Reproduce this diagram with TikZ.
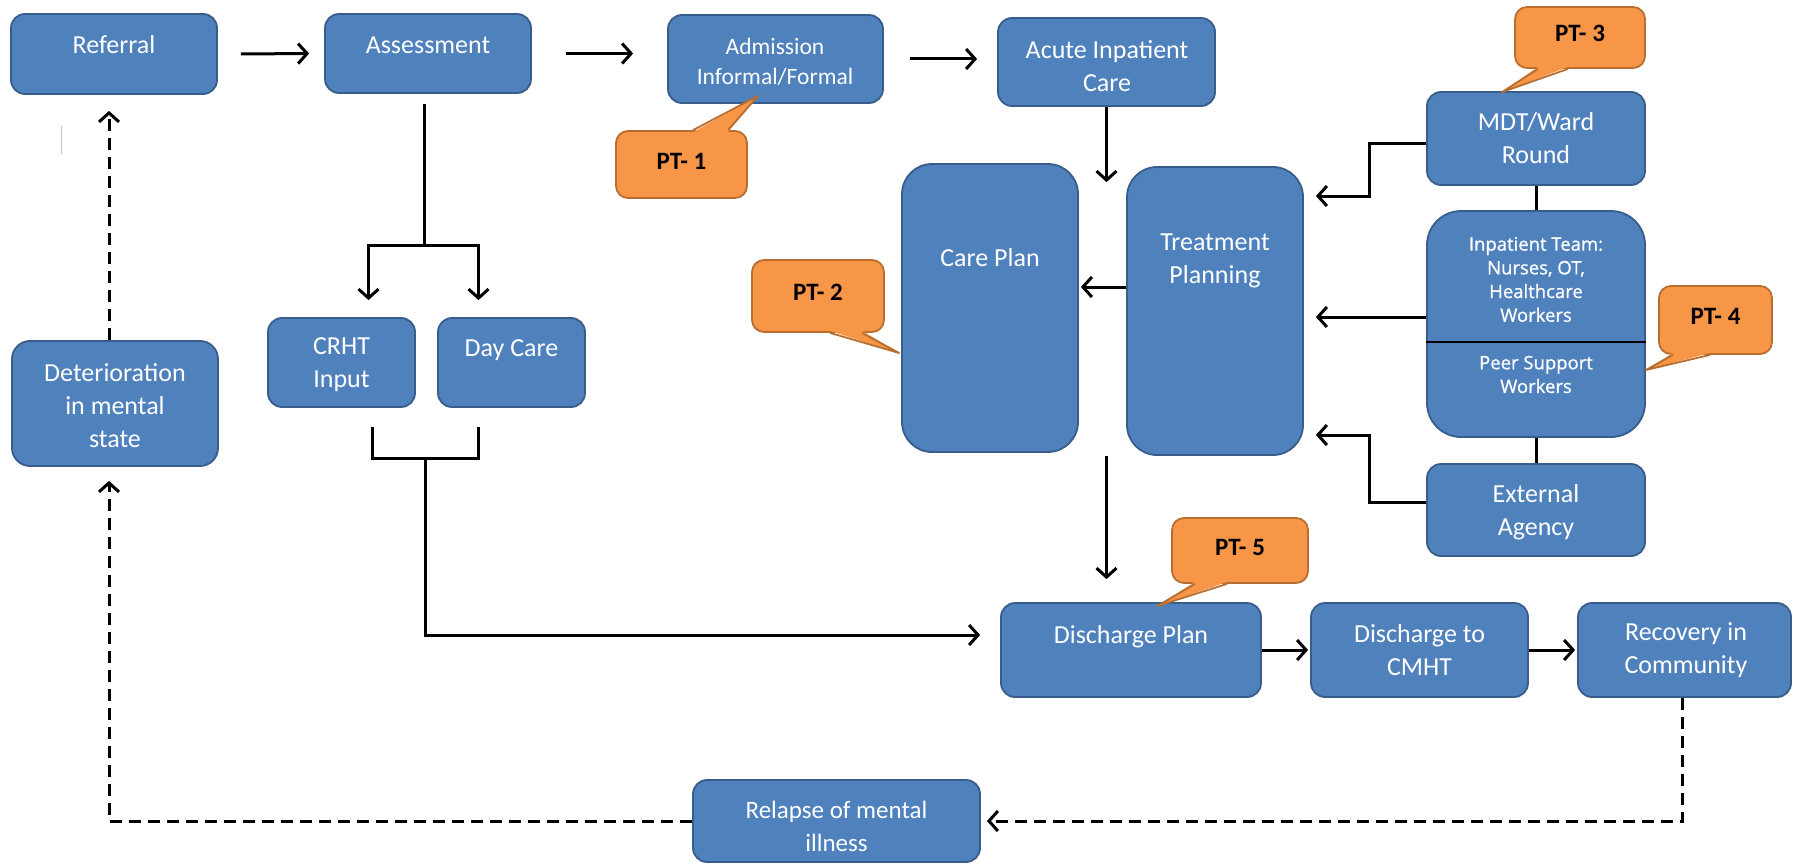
\documentclass[tikz,border=0pt]{standalone}
\usepackage{fontspec}
\setmainfont{Carlito}
\newfontfamily\teamfont{Open Sans}[FakeBold=0.8]
\usepackage{tikz}
\usetikzlibrary{arrows.meta,calc}
\definecolor{boxblue}{HTML}{4F81BD}
\definecolor{boxedge}{HTML}{385D8A}
\definecolor{ptorange}{HTML}{F79646}
\definecolor{ptedge}{HTML}{B86E30}

\begin{document}
\begin{tikzpicture}[x=1pt, y=-1pt,
  box/.style={draw=boxedge, fill=boxblue, line width=1.8pt, rounded corners=14pt, inner sep=0pt},
  txt/.style={text=white, align=center, inner sep=0pt, font=\fontsize{26}{33}\selectfont},
  teamtxt/.style={txt, font=\teamfont\fontsize{18.5}{23.7}\selectfont},
  ptbox/.style={draw=ptedge, fill=ptorange, line width=1.8pt, rounded corners=12pt, inner sep=0pt,
    text height=17pt, text depth=8pt, font=\bfseries\fontsize{25}{30}\selectfont},
  ptline/.style={draw=ptedge, line width=1.8pt, line join=round},
  link/.style={line width=3pt},
  arr/.style={link, -{Straight Barb[length=9pt,width=20pt]}},
  darr/.style={arr, dash pattern=on 12pt off 7pt}]
\fill[white] (0,0) rectangle (1793,864);
\useasboundingbox (0,0) rectangle (1793,864);
% top row
\node[box, minimum width=206pt, minimum height=80pt] (referral) at (114,54) {};
\node[box, minimum width=206pt, minimum height=79pt] (assess) at (428,53.5) {};
\node[box, minimum width=215pt, minimum height=88pt] (admission) at (775.5,59) {};
\node[box, minimum width=217pt, minimum height=88pt] (acute) at (1106.5,62) {};
% right column
\node[box, minimum width=218pt, minimum height=93pt] (mdt) at (1536,138.5) {};
\node[box, minimum width=218pt, minimum height=226pt, rounded corners=34pt] (team) at (1536,324) {};
\node[box, minimum width=218pt, minimum height=92pt] (external) at (1536,510) {};
\draw[line width=1.5pt] ([yshift=-18pt]team.west) -- ([yshift=-18pt]team.east);
% care plan / treatment planning
\node[box, minimum width=176pt, minimum height=288pt, rounded corners=30pt] (careplan) at (990,308) {};
\node[box, minimum width=176pt, minimum height=288pt, rounded corners=30pt] (treatment) at (1215,311) {};
% left side
\node[box, minimum width=147pt, minimum height=89pt] (crht) at (341.5,362.5) {};
\node[box, minimum width=147pt, minimum height=89pt] (daycare) at (511.5,362.5) {};
\node[box, minimum width=206pt, minimum height=125pt, rounded corners=18pt] (deterioration) at (115,403.5) {};
% bottom row
\node[box, minimum width=260pt, minimum height=94pt] (dischplan) at (1131,650) {};
\node[box, minimum width=217pt, minimum height=94pt] (cmht) at (1419.5,650) {};
\node[box, minimum width=213pt, minimum height=94pt] (recovery) at (1684.5,650) {};
\node[box, minimum width=287pt, minimum height=82pt] (relapse) at (836.5,821) {};

% box texts
\node[txt] (referral-t) at (114,45) {Referral};
\node[txt] (assess-t) at (428,45) {Assessment};
\node[txt, font=\fontsize{23.5}{30}\selectfont] (admission-t) at (775,62) {Admission\\Informal/Formal};
\node[txt] (acute-t) at (1107,66) {Acute Inpatient\\Care};
\node[txt] (mdt-t) at (1536,138.5) {MDT/Ward\\Round};
\node[teamtxt] (team-t) at (1536,279.5) {Inpatient Team:\\Nurses, OT,\\Healthcare\\Workers};
\node[teamtxt] (peer-t) at (1536,374.5) {Peer Support\\Workers};
\node[txt] (external-t) at (1536,512) {External\\Agency};
\node[txt] (careplan-t) at (990,258) {Care Plan};
\node[txt] (treatment-t) at (1215,260.5) {Treatment\\Planning};
\node[txt] (crht-t) at (341.5,364.5) {CRHT\\Input};
\node[txt] (daycare-t) at (511.5,350) {Day Care};
\node[txt] (deterioration-t) at (115,406) {Deterioration\\in mental\\state};
\node[txt] (dischplan-t) at (1131,637) {Discharge Plan};
\node[txt] (cmht-t) at (1419.5,650.5) {Discharge to\\CMHT};
\node[txt] (recovery-t) at (1686,650.5) {Recovery in\\Community};
\node[txt, font=\fontsize{25}{33}\selectfont] (relapse-t) at (836.5,826.5) {Relapse of mental\\illness};

% flow along the top
\draw[arr] ([xshift=23pt]referral.east) -- ([xshift=-15pt]assess.west);
\draw[arr] ([xshift=34pt]assess.east) -- ($(admission.west |- assess.east)+(-34,0)$);
\draw[arr] ([xshift=26pt]admission.east) -- ($(acute.west |- admission.east)+(-20,0)$);
% into and out of the plans
\draw[arr] (acute.south) -- ($(acute.south |- careplan.north)+(0,19)$);
\draw[arr] ([yshift=24pt]treatment.west) -- ([xshift=2pt,yshift=21pt]careplan.east);
\draw[arr] (treatment.south -| acute.south) -- ($(dischplan.north -| acute.south)+(0,-23)$);
% inputs to treatment planning
\coordinate (tpin) at ([xshift=12pt]treatment.east);
\draw[arr] ([yshift=-5pt]mdt.west) -- ++(-57,0) |- ($(tpin)+(0,-115)$);
\draw[arr] ($(team.west)+(0,-7)$) -- ($(tpin |- team.west)+(0,-7)$);
\draw[arr] ([yshift=8pt]external.west) -- ++(-57,0) |- ($(tpin)+(0,124)$);
\draw[link] (mdt.south) -- (team.north);
\draw[link] (team.south) -- (external.north);
% assessment split
\coordinate (fork) at ($(assess.south)+(-4,152)$);
\draw[link] ($(assess.south)+(-4,10)$) -- (fork);
\draw[arr] (fork) -| ($(crht.north)+(27,-17)$);
\draw[arr] (fork) -| ($(daycare.north)+(-33,-17)$);
% merge into discharge plan
\coordinate (merge) at ($(crht.south)!0.5!(daycare.south)+(-1,51)$);
\draw[link] ($(crht.south)+(31,19)$) |- (merge) -| ($(daycare.south)+(-33,19)$);
\draw[arr] (merge) |- ($(dischplan.west)+(-20,-15)$);
% bottom row
\draw[arr] (dischplan.east) -- ([xshift=-2pt]cmht.west);
\draw[arr] (cmht.east) -- ([xshift=-2pt]recovery.west);
% relapse loop
\draw[darr] ($(recovery.south)+(-2,0)$) |- ([xshift=6pt]relapse.east);
\draw[darr] (relapse.west) -| ($(deterioration.south)+(-6,14)$);
\draw[darr] ($(deterioration.north)+(-6,0)$) -- ($(referral.south)+(-5,16)$);
\draw[gray!50, line width=1pt] (61,126) -- (61,154);

% PT callouts
\node[ptbox, minimum width=131pt, minimum height=67pt] (pt1) at (681.5,164.5) {PT- 1};
\node[ptbox, minimum width=132pt, minimum height=72pt] (pt2) at (818,296) {PT- 2};
\node[ptbox, minimum width=130pt, minimum height=61pt] (pt3) at (1580,37.5) {PT- 3};
\node[ptbox, minimum width=113pt, minimum height=68pt] (pt4) at (1715.5,320) {PT- 4};
\node[ptbox, minimum width=136pt, minimum height=65pt] (pt5) at (1240,550.5) {PT- 5};
\coordinate (t1) at ($(admission.south)+(-17.5,-8)$);
\coordinate (t2) at ($(careplan.west)+(-2,45)$);
\coordinate (t3) at ($(mdt.north)+(-34,1)$);
\coordinate (t4) at ($(team.east)+(0,46)$);
\coordinate (t5) at ($(dischplan.north)+(26,4)$);
\fill[ptorange] ($(pt1.north)+(11.5,2)$) -- (t1) -- ($(pt1.north)+(46.5,2)$) -- cycle;
\draw[ptline] ($(pt1.north)+(11.5,0)$) -- (t1) -- ($(pt1.north)+(46.5,0)$);
\fill[ptorange] ($(pt2.south)+(12,-2)$) -- (t2) -- ($(pt2.south)+(44,-2)$) -- cycle;
\draw[ptline] ($(pt2.south)+(12,0)$) -- (t2) -- ($(pt2.south)+(44,0)$);
\fill[ptorange] ($(pt3.south)+(-42,-2)$) -- (t3) -- ($(pt3.south)+(-12,-2)$) -- cycle;
\draw[ptline] ($(pt3.south)+(-42,0)$) -- (t3) -- ($(pt3.south)+(-12,0)$);
\fill[ptorange] ($(pt4.south)+(-42.5,-2)$) -- (t4) -- ($(pt4.south)+(-5.5,-2)$) -- cycle;
\draw[ptline] ($(pt4.south)+(-42.5,0)$) -- (t4) -- ($(pt4.south)+(-5.5,0)$);
\fill[ptorange] ($(pt5.south)+(-45,-2)$) -- (t5) -- ($(pt5.south)+(-13,-2)$) -- cycle;
\draw[ptline] ($(pt5.south)+(-45,0)$) -- (t5) -- ($(pt5.south)+(-13,0)$);
\end{tikzpicture}
\end{document}
